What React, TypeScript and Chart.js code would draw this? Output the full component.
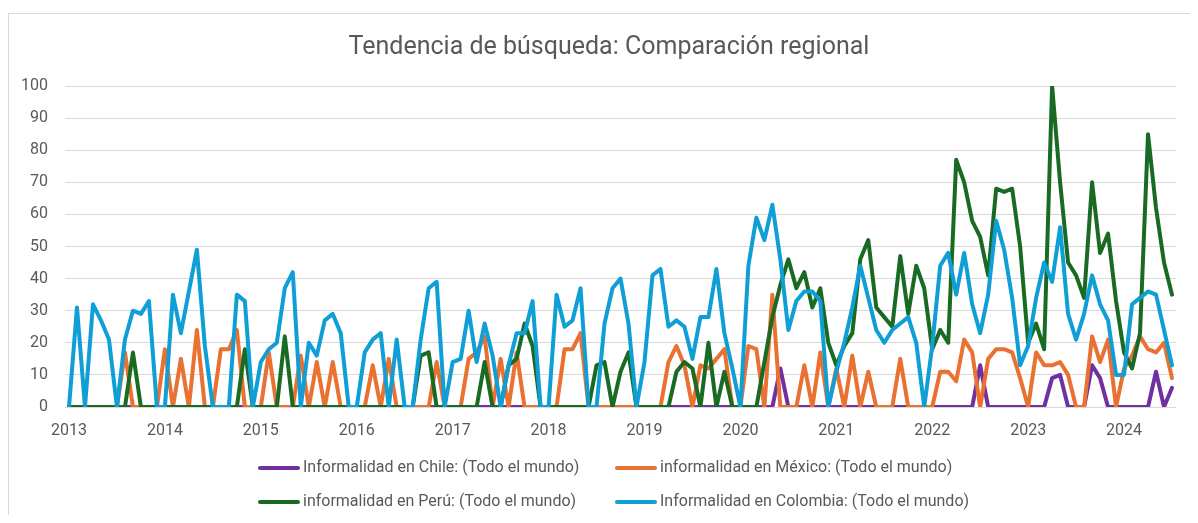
import React, { useEffect, useRef } from "react";
import { Chart, registerables } from "chart.js";

Chart.register(...registerables);

const TITLE = "Tendencia de búsqueda: Comparación regional";
const years = ["2013", "2014", "2015", "2016", "2017", "2018", "2019", "2020", "2021", "2022", "2023", "2024"];
const monthNames = ["01", "02", "03", "04", "05", "06", "07", "08", "09", "10", "11", "12"];
const monthsInLastYear = 7;
const yTicks = [0, 10, 20, 30, 40, 50, 60, 70, 80, 90, 100];

const categories: string[] = [];
years.forEach((y, yi) =>
  monthNames.forEach((m, mi) => {
    if (yi < years.length - 1 || mi < monthsInLastYear) categories.push(`${y}-${m}`);
  })
);

// Chile (purple)
const chile = [
  0, 0, 0, 0, 0, 0, 0, 0, 0, 0, 0, 0,
  0, 0, 0, 0, 0, 0, 0, 0, 0, 0, 0, 0,
  0, 0, 0, 0, 0, 0, 0, 0, 0, 0, 0, 0,
  0, 0, 0, 0, 0, 0, 0, 0, 0, 0, 0, 0,
  0, 0, 0, 0, 0, 0, 0, 0, 0, 0, 0, 0,
  0, 0, 0, 0, 0, 0, 0, 0, 0, 0, 0, 0,
  0, 0, 0, 0, 0, 0, 0, 0, 0, 0, 0, 0,
  0, 0, 0, 0, 0, 12, 0, 0, 0, 0, 0, 0,
  0, 0, 0, 0, 0, 0, 0, 0, 0, 0, 0, 0,
  0, 0, 0, 0, 0, 0, 13, 0, 0, 0, 0, 0,
  0, 0, 0, 9, 10, 0, 0, 0, 13, 9, 0, 0,
  0, 0, 0, 0, 11, 0, 6,
];

// México (orange)
const mexico = [
  0, 0, 0, 0, 0, 0, 0, 17, 0, 0, 0, 0,
  18, 0, 15, 0, 24, 0, 0, 18, 18, 24, 0, 0,
  0, 17, 0, 0, 0, 16, 0, 14, 0, 14, 0, 0,
  0, 0, 13, 0, 15, 0, 0, 0, 0, 0, 14, 0,
  0, 0, 15, 17, 22, 0, 15, 0, 17, 0, 0, 0,
  0, 0, 18, 18, 23, 0, 0, 0, 0, 0, 0, 0,
  0, 0, 0, 14, 19, 13, 0, 13, 12, 15, 18, 0,
  0, 19, 18, 0, 35, 0, 0, 0, 13, 0, 17, 0,
  12, 0, 16, 0, 11, 0, 0, 0, 15, 0, 0, 0,
  0, 11, 11, 8, 21, 17, 0, 15, 18, 18, 17, 9,
  0, 17, 13, 13, 14, 10, 0, 0, 22, 14, 21, 0,
  12, 16, 22, 18, 17, 20, 9,
];

// Perú (green)
const peru = [
  0, 0, 0, 0, 0, 0, 0, 0, 17, 0, 0, 0,
  0, 0, 0, 0, 0, 0, 0, 0, 0, 0, 18, 0,
  0, 0, 0, 22, 0, 0, 0, 0, 0, 0, 0, 0,
  0, 0, 0, 0, 0, 0, 0, 0, 16, 17, 0, 0,
  0, 0, 0, 0, 14, 0, 0, 13, 15, 26, 19, 0,
  0, 0, 0, 0, 0, 0, 13, 14, 0, 11, 17, 0,
  0, 0, 0, 0, 11, 14, 12, 0, 20, 0, 11, 0,
  0, 0, 0, 14, 28, 38, 46, 37, 42, 31, 37, 20,
  13, 19, 23, 46, 52, 31, 28, 25, 47, 29, 44, 37,
  18, 24, 20, 77, 70, 58, 53, 41, 68, 67, 68, 50,
  20, 26, 18, 100, 70, 45, 41, 34, 70, 48, 54, 33,
  17, 12, 23, 85, 62, 45, 35,
];

// Colombia (blue)
const colombia = [
  0, 31, 0, 32, 27, 21, 0, 21, 30, 29, 33, 0,
  0, 35, 23, 36, 49, 19, 0, 0, 0, 35, 33, 0,
  14, 18, 20, 37, 42, 0, 20, 16, 27, 29, 23, 0,
  0, 17, 21, 23, 0, 21, 0, 0, 21, 37, 39, 0,
  14, 15, 30, 14, 26, 16, 0, 13, 23, 23, 33, 0,
  0, 35, 25, 27, 37, 0, 0, 26, 37, 40, 26, 0,
  14, 41, 43, 25, 27, 25, 15, 28, 28, 43, 23, 12,
  0, 44, 59, 52, 63, 46, 24, 33, 36, 36, 33, 0,
  11, 20, 31, 44, 34, 24, 20, 24, 26, 28, 20, 0,
  19, 44, 48, 35, 48, 32, 23, 35, 58, 49, 34, 13,
  19, 34, 45, 39, 56, 29, 21, 29, 41, 32, 27, 10,
  10, 32, 34, 36, 35, 24, 13,
];

const seriesLabels = [
  "Informalidad en Chile: (Todo el mundo)",
  "informalidad en México: (Todo el mundo)",
  "informalidad en Perú: (Todo el mundo)",
  "Informalidad en Colombia: (Todo el mundo)",
];
const seriesColors = ["#7030A0", "#E97132", "#196B24", "#0F9ED5"];
const seriesData = [chile, mexico, peru, colombia];
const drawOrder = [3, 2, 1, 0];

const FONT = "Roboto, 'Noto Sans', sans-serif";
const TEXT_COLOR = "#595959";

const decorPlugin = {
  id: "decor",
  afterDraw(chart: any) {
    const ctx = chart.ctx;
    ctx.save();
    ctx.fillStyle = TEXT_COLOR;
    ctx.font = `25px ${FONT}`;
    ctx.textAlign = "center";
    ctx.textBaseline = "middle";
    ctx.fillText(TITLE, 600, 34);

    const colX = [249, 606];
    const rowY = [454, 488];
    ctx.font = `16px ${FONT}`;
    ctx.textAlign = "left";
    chart.data.datasets.forEach((ds: any, i: number) => {
      const x = colX[i % 2];
      const y = rowY[Math.floor(i / 2)];
      ctx.strokeStyle = ds.borderColor;
      ctx.lineWidth = 4;
      ctx.lineCap = "round";
      ctx.beginPath();
      ctx.moveTo(x + 2, y);
      ctx.lineTo(x + 40, y);
      ctx.stroke();
      ctx.fillStyle = TEXT_COLOR;
      ctx.fillText(ds.label, x + 45, y);
    });
    ctx.restore();
  },
};

export default function App() {
  const canvasRef = useRef<HTMLCanvasElement | null>(null);

  useEffect(() => {
    if (!canvasRef.current) return;
    const chart = new Chart(canvasRef.current, {
      type: "line",
      data: {
        labels: categories,
        datasets: seriesData.map((d, i) => ({
          label: seriesLabels[i],
          data: d,
          borderColor: seriesColors[i],
          backgroundColor: seriesColors[i],
          borderWidth: 4,
          pointRadius: 0,
          pointHoverRadius: 0,
          tension: 0,
          fill: false,
          borderJoinStyle: "round",
          borderCapStyle: "round",
          order: drawOrder[i],
        })),
      },
      options: {
        animation: false,
        responsive: false,
        events: [],
        layout: { padding: { left: 0, right: 14, top: 72, bottom: 68 } },
        plugins: {
          legend: { display: false },
          title: { display: false },
          tooltip: { enabled: false },
        },
        scales: {
          x: {
            type: "category",
            offset: true,
            grid: { display: false, drawTicks: false },
            border: { display: false },
            ticks: {
              autoSkip: false,
              maxRotation: 0,
              minRotation: 0,
              padding: 14,
              color: TEXT_COLOR,
              font: { family: FONT, size: 16 },
              callback: (_v: any, i: number) => (i % 12 === 0 ? years[i / 12] : ""),
            },
            afterFit: (s: any) => {
              s.height = 40;
            },
          },
          y: {
            min: 0,
            max: 100,
            afterBuildTicks: (s: any) => {
              s.ticks = yTicks.map((v) => ({ value: v }));
            },
            grid: { color: "#D9D9D9", lineWidth: 1, drawTicks: false },
            border: { display: false },
            ticks: {
              padding: 17,
              color: TEXT_COLOR,
              font: { family: FONT, size: 16 },
            },
            afterFit: (s: any) => {
              s.width = 56;
            },
          },
        },
      },
      plugins: [decorPlugin],
    });
    return () => chart.destroy();
  }, []);

  return (
    <div style={{ paddingTop: 5 }}>
      <div
        style={{
          borderLeft: "1px solid #D9D9D9",
          borderTop: "1px solid #D9D9D9",
          width: 1182,
          height: 502,
          boxSizing: "border-box",
          background: "#fff",
        }}
      >
        <canvas ref={canvasRef} width={1181} height={501} style={{ display: "block" }} />
      </div>
    </div>
  );
}
